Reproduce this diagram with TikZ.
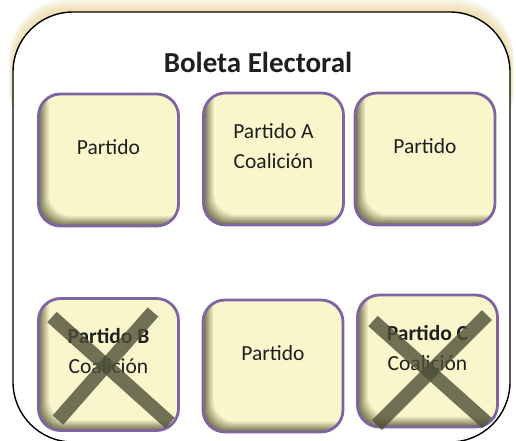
\documentclass[tikz,border=0pt]{standalone}
\usepackage{fontspec}
\setmainfont{Carlito}
\definecolor{boxfill}{HTML}{FAF6CB}
\definecolor{boxedge}{HTML}{8064A2}
\definecolor{boxshade}{HTML}{6F6F4C}
\definecolor{crossline}{HTML}{4E4F38}
\definecolor{glowcol}{HTML}{E3CC8A}
\begin{document}
\begin{tikzpicture}
  [x=1pt,y=-1pt,
   party/.style={rounded corners=22pt,draw=boxedge,line width=2.8pt,
     minimum width=140pt,minimum height=132pt,
     path picture={
       \foreach \k in {0,...,14}{
         \pgfmathtruncatemacro\mix{100*\k/14}
         \fill[boxfill!\mix!boxshade,rounded corners=22pt]
           ([shift={({\k*0.75pt},{\k*0.75pt})}]path picture bounding box.south west) rectangle
           ([shift={(30pt,30pt)}]path picture bounding box.north east);
       }}},
   boxtext/.style={align=center,yshift=13pt,text=black!88,
     font=\fontsize{21.5}{30}\selectfont},
   cross/.style={crossline,line width=14pt,opacity=0.8}]
  \clip (0,0) rectangle (516,440);

  \foreach \k in {1,...,14}
    \fill[glowcol,opacity=0.07,rounded corners=60pt] (13-\k*0.3,12-\k) rectangle (510+\k*0.3,150);
  \node[draw=black,line width=1.4pt,fill=white,rounded corners=60pt,
        minimum width=497pt,minimum height=430pt] (ballot) at (261.5,227) {};

  \node[anchor=base,text=black!88,font=\bfseries\fontsize{29}{34}\selectfont] (title) at (258,72) {Boleta Electoral};

  \node[party,label={[boxtext]center:Partido}] (p1) at (108.5,160) {};
  \node[party,label={[boxtext]center:Partido A\\Coalición}] (p2) at (273.5,159) {};
  \node[party,label={[boxtext]center:Partido}] (p3) at (425,159) {};
  \node[party,label={[boxtext]center:{\bfseries Partido B}\\Coalición}] (p4) at (108.5,364.5) {};
  \node[party,label={[boxtext]center:Partido}] (p5) at (273,366) {};
  \node[party,label={[boxtext]center:{\bfseries Partido C}\\Coalición}] (p6) at (427.5,361) {};

  \draw[cross] (52,317) -- (170,423);
  \draw[cross] (153,312) -- (58,420);
  \draw[cross] (373,321) -- (487,423);
  \draw[cross] (487,315) -- (377,425);
\end{tikzpicture}
\end{document}
